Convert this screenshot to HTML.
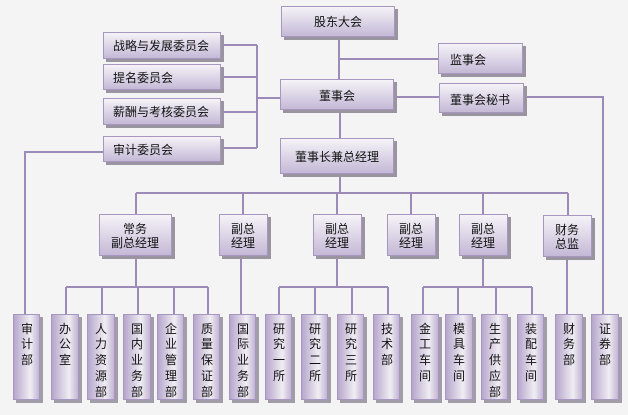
<!DOCTYPE html>
<html><head><meta charset="utf-8"><style>
html,body{margin:0;padding:0;background:#f4f4f4}
svg text{font-family:"Liberation Sans","Noto Sans CJK SC",sans-serif;font-size:12px;fill:#111}
</style></head><body>
<svg width="628" height="410" viewBox="0 0 628 410" xmlns="http://www.w3.org/2000/svg">
<defs>
<linearGradient id="gv" x1="0" y1="0" x2="0" y2="1"><stop offset="0" stop-color="#f6f4f8"/><stop offset="1" stop-color="#c4b8d6"/></linearGradient>
<linearGradient id="gh" x1="0" y1="0" x2="1" y2="0"><stop offset="0" stop-color="#b4a4ca"/><stop offset="0.65" stop-color="#f0edf3"/><stop offset="1" stop-color="#c0b2d2"/></linearGradient>
</defs>
<rect width="628" height="410" fill="#f4f4f4"/>
<g stroke="#9c8ab8" stroke-width="2" fill="none">
<path d="M339 37V79M339 59H438M394 97H439M524 97H603V314"/>
<path d="M221 45H257M221 77H257M221 112H257M221 148H257M257 45V148M257 98H280"/>
<path d="M103 152H25V314"/>
<path d="M340 110V138M340 174V193M136 193H568M136 193V214M243 193V214M337 193V214M411 193V214M483 193V214M568 193V215"/>
<path d="M136 256V287M66 287H208M66 287V314M102 287V314M138 287V314M174 287V314M208 287V314"/>
<path d="M241 256V314"/>
<path d="M337 256V287M279 287H388M279 287V314M315 287V314M352 287V314M388 287V314"/>
<path d="M483 256V287M423 287H532M423 287V314M458 287V314M496 287V314M532 287V314"/>
<path d="M567 257V314"/>
</g>
<g stroke="#a696c0" stroke-width="1">
<g fill="#9a94a0" stroke="none">
<rect x="284" y="9" width="114" height="31"/><rect x="441" y="46" width="85" height="31"/><rect x="283" y="82" width="114" height="31"/><rect x="442" y="86" width="85" height="30"/><rect x="283" y="141" width="114" height="36"/>
<rect x="106" y="35" width="118" height="27"/><rect x="106" y="67" width="118" height="26"/><rect x="106" y="101" width="118" height="27"/><rect x="106" y="139" width="118" height="26"/>
<rect x="102" y="217" width="73" height="42"/><rect x="222" y="217" width="49" height="42"/><rect x="316" y="217" width="49" height="42"/><rect x="390" y="217" width="49" height="42"/><rect x="462" y="217" width="49" height="42"/><rect x="546" y="218" width="49" height="42"/>
</g>
<g fill="url(#gv)">
<rect x="281.5" y="6.5" width="113" height="30"/><rect x="438.5" y="43.5" width="84" height="30"/><rect x="280.5" y="79.5" width="113" height="30"/><rect x="439.5" y="83.5" width="84" height="29"/><rect x="280.5" y="138.5" width="113" height="35"/>
<rect x="103.5" y="32.5" width="117" height="26"/><rect x="103.5" y="64.5" width="117" height="25"/><rect x="103.5" y="98.5" width="117" height="26"/><rect x="103.5" y="136.5" width="117" height="25"/>
<rect x="99.5" y="214.5" width="72" height="41"/><rect x="219.5" y="214.5" width="48" height="41"/><rect x="313.5" y="214.5" width="48" height="41"/><rect x="387.5" y="214.5" width="48" height="41"/><rect x="459.5" y="214.5" width="48" height="41"/><rect x="543.5" y="215.5" width="48" height="41"/>
</g>
<g fill="#a29ca8" stroke="none">
<rect x="16" y="317" width="27" height="86"/><rect x="54" y="317" width="28" height="86"/><rect x="90" y="317" width="28" height="86"/><rect x="126" y="317" width="28" height="86"/><rect x="160" y="317" width="27" height="86"/><rect x="196" y="317" width="27" height="86"/><rect x="232" y="317" width="27" height="86"/><rect x="268" y="317" width="27" height="86"/><rect x="304" y="317" width="27" height="86"/><rect x="340" y="317" width="27" height="86"/><rect x="376" y="317" width="27" height="86"/><rect x="414" y="317" width="28" height="86"/><rect x="448" y="317" width="28" height="86"/><rect x="484" y="317" width="27" height="86"/><rect x="520" y="317" width="27" height="86"/><rect x="558" y="317" width="28" height="86"/><rect x="594" y="317" width="28" height="86"/>
</g>
<g fill="url(#gh)">
<rect x="13.5" y="314.5" width="26" height="85"/><rect x="51.5" y="314.5" width="27" height="85"/><rect x="87.5" y="314.5" width="27" height="85"/><rect x="123.5" y="314.5" width="27" height="85"/><rect x="157.5" y="314.5" width="26" height="85"/><rect x="193.5" y="314.5" width="26" height="85"/><rect x="229.5" y="314.5" width="26" height="85"/><rect x="265.5" y="314.5" width="26" height="85"/><rect x="301.5" y="314.5" width="26" height="85"/><rect x="337.5" y="314.5" width="26" height="85"/><rect x="373.5" y="314.5" width="26" height="85"/><rect x="411.5" y="314.5" width="27" height="85"/><rect x="445.5" y="314.5" width="27" height="85"/><rect x="481.5" y="314.5" width="26" height="85"/><rect x="517.5" y="314.5" width="26" height="85"/><rect x="555.5" y="314.5" width="27" height="85"/><rect x="591.5" y="314.5" width="27" height="85"/>
</g>
</g>
<g>
<text x="338" y="26" text-anchor="middle">股东大会</text>
<text x="450" y="64">监事会</text>
<text x="337" y="100" text-anchor="middle">董事会</text>
<text x="450" y="104">董事会秘书</text>
<text x="337" y="161" text-anchor="middle">董事长兼总经理</text>
<text x="113" y="50">战略与发展委员会</text>
<text x="113" y="82">提名委员会</text>
<text x="113" y="116">薪酬与考核委员会</text>
<text x="113" y="154">审计委员会</text>
</g>
<g text-anchor="middle">
<text x="135" y="233">常务</text><text x="135" y="247">副总经理</text>
<text x="243" y="233">副总</text><text x="243" y="247">经理</text>
<text x="337" y="233">副总</text><text x="337" y="247">经理</text>
<text x="411" y="233">副总</text><text x="411" y="247">经理</text>
<text x="483" y="233">副总</text><text x="483" y="247">经理</text>
<text x="567" y="234">财务</text><text x="567" y="248">总监</text>
</g>
<g text-anchor="middle">
<text x="27" y="333">审</text><text x="27" y="348">计</text><text x="27" y="364">部</text>
<text x="65" y="333">办</text><text x="65" y="348">公</text><text x="65" y="364">室</text>
<text x="101" y="333">人</text><text x="101" y="348">力</text><text x="101" y="364">资</text><text x="101" y="380">源</text><text x="101" y="396">部</text>
<text x="137" y="333">国</text><text x="137" y="348">内</text><text x="137" y="364">业</text><text x="137" y="380">务</text><text x="137" y="396">部</text>
<text x="171" y="333">企</text><text x="171" y="348">业</text><text x="171" y="364">管</text><text x="171" y="380">理</text><text x="171" y="396">部</text>
<text x="207" y="333">质</text><text x="207" y="348">量</text><text x="207" y="364">保</text><text x="207" y="380">证</text><text x="207" y="396">部</text>
<text x="243" y="333">国</text><text x="243" y="348">际</text><text x="243" y="364">业</text><text x="243" y="380">务</text><text x="243" y="396">部</text>
<text x="279" y="333">研</text><text x="279" y="348">究</text><text x="279" y="364">一</text><text x="279" y="380">所</text>
<text x="315" y="333">研</text><text x="315" y="348">究</text><text x="315" y="364">二</text><text x="315" y="380">所</text>
<text x="351" y="333">研</text><text x="351" y="348">究</text><text x="351" y="364">三</text><text x="351" y="380">所</text>
<text x="387" y="333">技</text><text x="387" y="348">术</text><text x="387" y="364">部</text>
<text x="425" y="333">金</text><text x="425" y="348">工</text><text x="425" y="364">车</text><text x="425" y="380">间</text>
<text x="459" y="333">模</text><text x="459" y="348">具</text><text x="459" y="364">车</text><text x="459" y="380">间</text>
<text x="495" y="333">生</text><text x="495" y="348">产</text><text x="495" y="364">供</text><text x="495" y="380">应</text><text x="495" y="396">部</text>
<text x="531" y="333">装</text><text x="531" y="348">配</text><text x="531" y="364">车</text><text x="531" y="380">间</text>
<text x="569" y="333">财</text><text x="569" y="348">务</text><text x="569" y="364">部</text>
<text x="605" y="333">证</text><text x="605" y="348">券</text><text x="605" y="364">部</text>
</g>
</svg>
</body></html>
